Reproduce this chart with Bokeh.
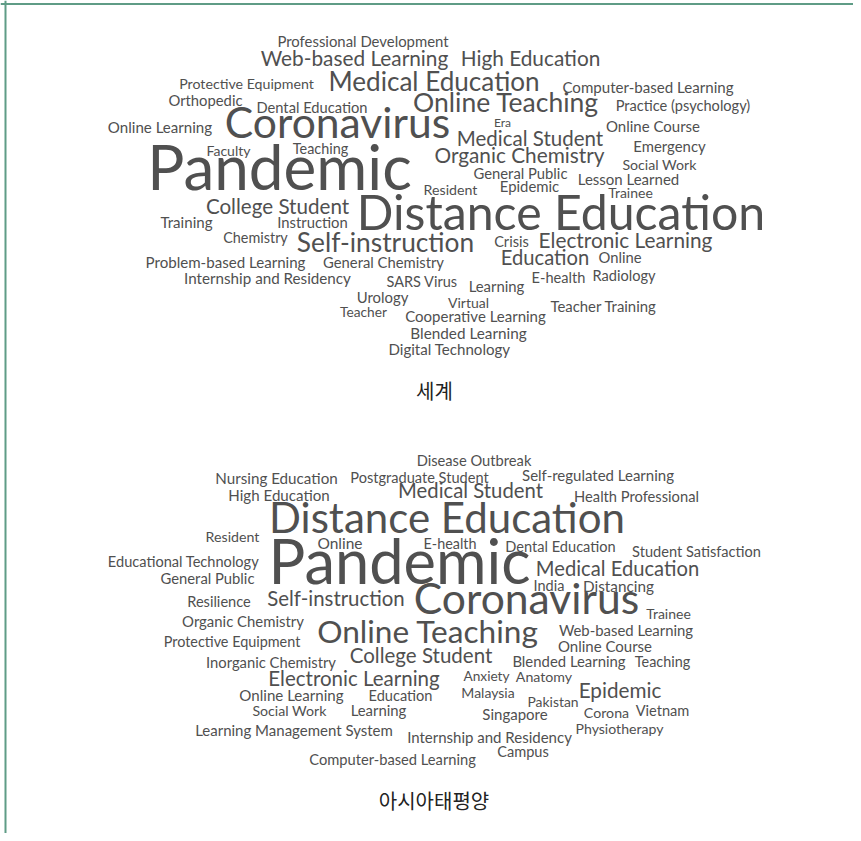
from bokeh.plotting import figure
from bokeh.models import ColumnDataSource, Range1d, Span
from bokeh.core.properties import value
from bokeh.embed import file_html
from bokeh.resources import INLINE

# ---- data: words of each cloud ----
world_words = [
    "Professional Development", "Web-based Learning", "High Education",
    "Protective Equipment", "Medical Education", "Computer-based Learning",
    "Orthopedic", "Dental Education", "Online Teaching", "Practice (psychology)",
    "Online Learning", "Coronavirus", "Era", "Online Course", "Medical Student",
    "Faculty", "Teaching", "Emergency", "Organic Chemistry", "Pandemic",
    "Social Work", "General Public", "Lesson Learned", "Resident", "Epidemic",
    "Trainee", "Distance Education", "College Student", "Training", "Instruction",
    "Chemistry", "Self-instruction", "Crisis", "Electronic Learning",
    "Problem-based Learning", "General Chemistry", "Education", "Online",
    "Internship and Residency", "SARS Virus", "Learning", "E-health", "Radiology",
    "Urology", "Virtual", "Teacher Training", "Teacher", "Cooperative Learning",
    "Blended Learning", "Digital Technology",
]
asia_words = [
    "Disease Outbreak", "Nursing Education", "Postgraduate Student",
    "Self-regulated Learning", "High Education", "Medical Student",
    "Health Professional", "Distance Education", "Resident", "Online", "E-health",
    "Dental Education", "Student Satisfaction", "Educational Technology",
    "Pandemic", "General Public", "Medical Education", "India", "Distancing",
    "Resilience", "Self-instruction", "Coronavirus", "Trainee",
    "Organic Chemistry", "Online Teaching", "Web-based Learning",
    "Protective Equipment", "Online Course", "Inorganic Chemistry",
    "College Student", "Blended Learning", "Teaching", "Electronic Learning",
    "Anxiety", "Anatomy", "Online Learning", "Education", "Malaysia", "Epidemic",
    "Pakistan", "Social Work", "Learning", "Singapore", "Corona", "Vietnam",
    "Learning Management System", "Physiotherapy", "Internship and Residency",
    "Campus", "Computer-based Learning",
]
captions = ["세계", "아시아태평양"]

# ---- layout of the cloud: (centre x, baseline y, font px), page pixels ----
world_layout = [
    (362.5, 47, 14.9), (354, 66, 20.8), (530, 66, 20.8),
    (246, 89, 14.2), (433.5, 92, 26.1), (647.5, 93, 15.1),
    (205, 106, 14.8), (311.5, 113, 14.7), (505.5, 113, 26.5), (682.5, 112, 14.6),
    (159.5, 133, 15.1), (337, 140, 42.6), (502, 127, 12.1), (652.5, 132, 15.0), (529.5, 147, 20.5),
    (228, 156, 14.0), (320, 154, 14.4), (669, 152, 14.9), (519, 163, 20.8), (279, 193, 62),
    (659, 170, 14.2), (520, 179, 14.8), (628, 185, 15.0), (450, 195, 14.2), (529, 192, 14.9),
    (630, 198, 14.0), (560.5, 232, 48.2), (277, 215, 20.6), (186, 228, 15.1), (312, 228, 14.8),
    (255, 243, 14.4), (385, 253, 26.3), (511, 248, 14.6), (625, 248, 20.8),
    (225, 268, 15.1), (383, 268, 14.8), (544.5, 266, 20.2), (619.5, 263, 14.8),
    (267, 284, 15.2), (421.5, 288, 14.5), (496, 292, 14.9), (558, 284, 14.6), (623.5, 282, 14.6),
    (382, 303, 14.9), (468, 308, 14.0), (603, 312, 14.9), (363, 317, 13.7), (475, 322, 15.0),
    (468, 339, 15.3), (449, 355, 15.1),
]
asia_layout = [
    (473.5, 466, 14.7), (276, 484, 15.2), (419, 484, 14.6),
    (597.5, 481, 15.0), (278.5, 501, 15.1), (470, 499, 20.3),
    (636, 502, 14.7), (446.5, 535, 42.0), (232, 542, 14.2), (339.5, 549, 15.5), (449.5, 549, 14.4),
    (560, 553, 14.6), (696, 558, 14.6), (183, 568, 14.6),
    (399, 587, 61.4), (207, 584, 14.8), (617, 577, 20.2), (548.5, 592, 14.5), (618, 592, 15.3),
    (218.5, 608, 14.6), (335.5, 607, 20.4), (526, 616, 42.6), (668, 619, 14.0),
    (242.5, 627, 14.9), (427.5, 645, 31.6), (625.5, 636, 14.9),
    (231.5, 647, 14.4), (604.5, 652, 15.0), (270.5, 668, 14.8),
    (420.5, 664, 20.5), (568.5, 667, 14.9), (662, 667, 14.4), (353.5, 687, 20.5),
    (486, 681, 13.7), (543.5, 682, 14.2), (291, 701, 15.1), (400, 702, 14.6), (487.5, 698, 14.0), (619.5, 699, 20.7),
    (552.5, 707, 13.9), (289, 716, 14.2), (378, 716, 14.9), (514.5, 720, 15.0), (606, 718, 14.2), (662, 717, 14.6),
    (293.5, 736, 15.0), (619, 734, 14.1), (489, 743, 15.0),
    (522.5, 758, 14.6), (392, 765, 14.7),
]
caption_layout = [(434, 390), (433.5, 800)]

# the svg text box sits lower than the alphabetic baseline by ~0.45 em
BASELINE_SHIFT = 0.45

W, H = 853, 833
p = figure(width=W, height=H, x_range=Range1d(0, W), y_range=Range1d(H, 0),
           output_backend="svg", toolbar_location=None, min_border=0)
p.axis.visible = False
p.grid.visible = False
p.outline_line_color = None
p.background_fill_color = "white"
p.border_fill_color = "white"

words = world_words + asia_words
layout = world_layout + asia_layout
src = ColumnDataSource(dict(
    x=[l[0] for l in layout],
    y=[l[1] - BASELINE_SHIFT * l[2] for l in layout],
    text=words,
    size=["%spx" % l[2] for l in layout],
))
p.text(x="x", y="y", text="text", source=src, text_font=value("Lato"),
       text_font_size="size", text_color="#505050", text_align="center",
       text_baseline="alphabetic")

csrc = ColumnDataSource(dict(x=[c[0] for c in caption_layout],
                             y=[c[1] for c in caption_layout], text=captions))
p.text(x="x", y="y", text="text", source=csrc, text_font=value("Noto Sans CJK KR"),
       text_font_size="20px", text_color="#222222", text_align="center",
       text_baseline="middle")

p.add_layout(Span(location=3.5, dimension="width", line_color="#5f9c86", line_width=2))
p.add_layout(Span(location=5, dimension="height", line_color="#5f9c86", line_width=2))

open("out.html", "w").write(file_html(p, INLINE))
